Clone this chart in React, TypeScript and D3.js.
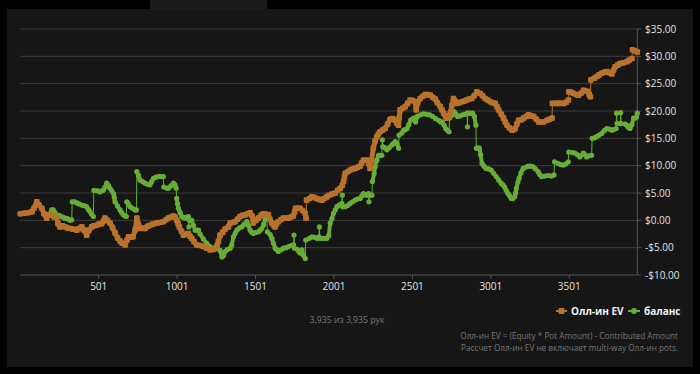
import * as d3 from "d3";

const W = 700;
const H = 374;

const totalHands = 3935;
const yTicks = [-10, -5, 0, 5, 10, 15, 20, 25, 30, 35];
const xTicks = [501, 1001, 1501, 2001, 2501, 3001, 3501];
const seriesNames = ["Олл-ин EV", "баланс"];
const footnotes = [
  "Олл-ин EV = (Equity * Pot Amount) - Contributed Amount",
  "Рассчет Олл-ин EV не включает multi-way Олл-ин pots.",
];

// [hand, $]
const evPoints: [number, number][] = [
  [1,1.2],[25,1.3],[50,1.4],[76,1.6],[88,2.2],[106,3.4],[120,2.8],[138,2.2],[152,1.2],[169,0.4],[184,1.0],[201,1.0],[216,0.6],[233,0.5],[241,-0.6],[254,-1.2],[270,-1.0],[286,-1.2],[302,-1.4],[318,-1.5],[337,-1.6],[361,-1.8],[375,-1.5],[393,-1.2],[407,-1.8],[424,-2.7],[439,-1.8],[456,-1.2],[471,-1.0],[488,-0.9],[503,-0.7],[520,-0.6],[532,-0.1],[541,0.4],[557,0.0],[573,-0.5],[589,-1.3],[605,-2.3],[621,-3.2],[637,-3.8],[650,-4.2],[669,-4.5],[682,-3.6],[691,-3.0],[707,-3.1],[720,-3.0],[733,-1.8],[744,0.4],[755,-0.8],[764,-1.5],[780,-1.4],[796,-1.5],[812,-1.1],[828,-0.9],[847,-0.7],[871,-0.5],[892,-0.4],[913,-0.25],[930,0.1],[945,0.4],[962,0.6],[977,0.8],[988,0.6],[999,0.0],[1007,-0.6],[1015,-1.2],[1029,-2.0],[1041,-2.7],[1058,-2.5],[1073,-2.4],[1083,-2.9],[1094,-3.3],[1109,-3.9],[1126,-4.5],[1147,-4.6],[1168,-4.8],[1189,-5.1],[1211,-5.4],[1227,-5.3],[1243,-5.1],[1256,-4.6],[1264,-3.9],[1275,-2.7],[1291,-2.2],[1307,-1.6],[1328,-1.2],[1339,-0.5],[1355,-0.4],[1370,-0.25],[1386,0.2],[1402,0.7],[1418,0.9],[1434,1.0],[1450,1.2],[1466,1.4],[1479,0.8],[1487,-0.5],[1504,0.0],[1519,0.4],[1536,0.9],[1551,1.2],[1568,1.1],[1583,1.0],[1593,0.2],[1604,-0.5],[1616,-0.9],[1625,-1.2],[1635,-0.6],[1646,-0.25],[1663,0.1],[1678,0.4],[1695,0.4],[1710,0.4],[1727,0.6],[1742,0.8],[1750,1.6],[1756,2.2],[1772,2.2],[1785,2.2],[1801,1.8],[1817,1.3],[1823,0.4],[1826,3.7],[1846,4.0],[1860,4.3],[1874,4.2],[1892,4.0],[1906,3.8],[1924,3.7],[1938,4.0],[1956,4.3],[1970,4.6],[1988,4.8],[2009,5.0],[2025,5.5],[2041,5.85],[2054,6.4],[2062,7.1],[2068,8.0],[2073,8.6],[2089,8.9],[2104,9.2],[2120,9.4],[2136,9.5],[2152,9.7],[2168,9.9],[2178,10.5],[2189,11.0],[2203,11.0],[2214,11.0],[2222,10.4],[2231,9.5],[2241,11.0],[2252,13.2],[2263,14.5],[2274,15.3],[2284,15.8],[2295,16.2],[2311,16.5],[2327,16.8],[2343,17.6],[2359,18.5],[2375,18.6],[2391,18.3],[2401,17.8],[2412,17.4],[2417,18.8],[2423,20.2],[2439,20.5],[2455,20.8],[2471,21.4],[2487,22.0],[2503,21.9],[2519,21.7],[2525,20.2],[2535,21.5],[2551,22.3],[2567,22.7],[2583,23.0],[2599,23.0],[2615,22.9],[2631,22.5],[2647,22.2],[2660,21.5],[2679,20.8],[2690,20.2],[2700,19.6],[2711,19.1],[2721,18.7],[2732,19.0],[2742,19.6],[2752,21.0],[2763,22.3],[2774,21.8],[2785,21.4],[2800,21.5],[2817,21.7],[2831,21.8],[2848,22.0],[2863,22.2],[2880,22.3],[2895,22.8],[2912,23.5],[2933,23.2],[2949,22.8],[2965,22.3],[2981,22.0],[2997,21.7],[3013,21.5],[3029,21.4],[3040,20.8],[3051,20.2],[3068,19.4],[3082,18.7],[3093,18.0],[3104,17.4],[3119,16.9],[3136,16.5],[3148,16.6],[3157,16.8],[3167,17.6],[3178,18.3],[3196,18.4],[3210,18.7],[3227,19.0],[3242,19.3],[3259,19.1],[3274,19.0],[3291,18.5],[3306,18.0],[3323,18.0],[3338,18.0],[3360,18.3],[3374,18.5],[3391,18.7],[3394,21.4],[3419,21.4],[3434,21.4],[3451,21.4],[3466,21.4],[3482,21.6],[3496,22.0],[3499,23.5],[3514,23.4],[3529,23.2],[3546,23.0],[3561,22.9],[3578,23.3],[3593,23.8],[3615,23.6],[3629,23.0],[3636,22.6],[3639,25.7],[3661,26.0],[3678,26.3],[3692,26.6],[3709,26.9],[3724,27.1],[3741,27.2],[3755,27.0],[3773,26.8],[3784,27.5],[3794,28.1],[3810,28.4],[3826,28.7],[3845,28.8],[3869,29.0],[3883,29.3],[3901,29.6],[3904,31.2],[3922,31.0],[3935,30.8],
];

const balancePoints: [number, number][] = [
  [1,1.2],[25,1.3],[50,1.4],[76,1.6],[88,2.2],[106,3.2],[120,2.8],[138,2.2],[152,1.3],[169,0.6],[184,1.0],[201,1.9],[211,1.9],[222,1.4],[233,1.0],[248,0.9],[265,0.7],[277,0.5],[286,0.4],[302,0.3],[318,0.0],[329,0.1],[332,3.4],[347,3.4],[361,3.2],[375,3.0],[393,2.8],[407,2.7],[424,2.5],[435,2.0],[445,1.6],[456,1.1],[467,0.7],[470,5.5],[493,5.4],[509,5.2],[520,5.4],[530,5.5],[541,6.1],[552,6.8],[563,6.4],[573,5.85],[584,5.4],[595,4.9],[600,4.2],[605,3.4],[621,2.6],[637,1.9],[648,1.4],[658,1.0],[669,0.8],[677,0.7],[680,3.4],[690,3.0],[701,2.5],[717,2.2],[733,1.9],[741,1.9],[744,8.9],[755,8.2],[764,7.4],[780,7.1],[796,6.8],[812,6.6],[828,6.5],[839,7.1],[850,7.7],[866,7.9],[882,8.0],[899,8.0],[913,8.0],[916,6.1],[935,5.9],[945,5.85],[961,6.3],[977,6.8],[988,6.5],[995,5.85],[998,4.0],[1004,3.0],[1009,2.2],[1020,1.4],[1031,0.7],[1041,0.5],[1052,0.4],[1063,0.6],[1073,0.7],[1076,-1.2],[1079,0.0],[1094,0.0],[1105,-0.9],[1116,-1.8],[1127,-1.8],[1137,-1.8],[1147,-2.5],[1168,-3.4],[1190,-4.2],[1211,-4.8],[1232,-5.4],[1252,-5.2],[1275,-5.5],[1286,-6.7],[1296,-6.5],[1307,-5.7],[1320,-5.4],[1339,-5.1],[1349,-4.5],[1360,-3.0],[1371,-2.4],[1382,-1.8],[1397,-1.4],[1413,-1.2],[1428,-0.7],[1446,-0.25],[1457,-1.0],[1466,-1.8],[1477,-2.2],[1487,-2.4],[1504,-2.2],[1519,-2.1],[1530,-1.8],[1541,-1.5],[1552,-0.8],[1562,0.4],[1573,0.4],[1576,-2.1],[1594,-2.6],[1605,-3.3],[1615,-4.2],[1626,-5.1],[1637,-5.4],[1647,-5.7],[1664,-5.4],[1679,-5.1],[1696,-5.0],[1711,-4.8],[1728,-4.6],[1743,-4.5],[1746,-2.7],[1749,-5.1],[1765,-5.3],[1775,-5.6],[1786,-6.0],[1797,-5.4],[1807,-6.4],[1818,-7.0],[1821,-3.6],[1844,-3.3],[1861,-3.0],[1875,-3.1],[1893,-3.3],[1905,-3.0],[1908,-1.2],[1911,-3.3],[1923,-3.3],[1938,-3.3],[1956,-3.3],[1968,-2.8],[1977,-0.5],[1988,0.3],[1998,1.3],[2009,1.9],[2020,2.5],[2034,2.8],[2051,3.1],[2054,4.6],[2057,2.5],[2072,2.5],[2088,2.7],[2104,3.1],[2120,3.4],[2136,3.7],[2152,3.9],[2168,4.0],[2179,4.5],[2189,4.9],[2200,4.7],[2211,4.6],[2221,4.9],[2224,3.4],[2227,4.6],[2243,4.6],[2246,7.1],[2257,8.5],[2263,9.8],[2274,11.0],[2285,11.9],[2296,11.9],[2306,11.9],[2309,14.7],[2312,13.5],[2324,13.3],[2339,12.9],[2353,13.3],[2371,13.8],[2381,14.1],[2392,14.4],[2403,14.0],[2413,13.2],[2416,15.6],[2435,16.0],[2446,16.5],[2457,16.6],[2467,16.8],[2478,17.5],[2489,18.3],[2500,18.5],[2510,18.7],[2521,18.0],[2532,19.0],[2553,19.3],[2572,19.5],[2591,19.4],[2611,19.3],[2630,19.0],[2649,18.6],[2668,18.3],[2681,18.0],[2692,18.0],[2703,17.4],[2713,16.8],[2724,16.5],[2735,16.2],[2738,18.7],[2757,19.3],[2767,19.9],[2778,19.5],[2789,19.0],[2804,19.1],[2821,19.3],[2836,19.4],[2850,19.6],[2852,17.1],[2854,19.6],[2868,19.6],[2885,19.6],[2896,19.0],[2906,17.4],[2909,13.2],[2919,13.2],[2928,13.2],[2936,12.0],[2945,10.4],[2958,9.9],[2971,9.5],[2987,9.4],[3003,9.2],[3019,8.6],[3035,8.0],[3051,7.4],[3067,6.8],[3078,6.5],[3089,6.1],[3099,5.5],[3110,4.9],[3121,4.5],[3131,4.0],[3142,4.0],[3153,4.3],[3159,5.0],[3164,5.85],[3174,7.0],[3181,7.7],[3193,8.7],[3207,9.5],[3222,9.7],[3239,9.9],[3254,9.9],[3271,9.8],[3286,9.4],[3303,8.9],[3313,8.4],[3324,8.0],[3345,8.1],[3367,8.2],[3388,8.1],[3404,8.3],[3407,10.7],[3431,10.4],[3445,10.2],[3463,10.1],[3478,10.3],[3495,10.7],[3498,12.5],[3522,12.4],[3537,12.3],[3554,12.0],[3569,11.6],[3591,12.3],[3601,12.0],[3612,11.6],[3628,11.8],[3644,11.9],[3647,15.0],[3663,15.1],[3676,15.3],[3692,15.6],[3708,15.9],[3724,16.4],[3740,16.8],[3756,16.7],[3772,16.5],[3785,16.6],[3800,16.8],[3803,19.6],[3806,17.7],[3826,17.7],[3829,19.7],[3832,17.7],[3858,17.6],[3868,17.4],[3879,17.0],[3889,16.8],[3900,17.5],[3911,18.7],[3922,18.7],[3930,18.9],[3935,19.6],
];

const ORANGE = "#b9722c";
const GREEN = "#67ad36";
const FONT = "'Open Sans', 'Noto Sans', sans-serif";

const x = d3.scaleLinear().domain([1, totalHands]).range([20.3, 637.3]);
const y = d3.scaleLinear().domain([-10, 35]).range([275, 29]);
const money = (v: number) => (v < 0 ? "-$" : "$") + d3.format(".2f")(Math.abs(v));

function Series({ pts, color, thick, square }: { pts: [number, number][]; color: string; thick: number; square: boolean }) {
  const line = d3.line<[number, number]>().x((d) => x(d[0])).y((d) => y(d[1]));
  // runs between hands drawn thick, instant jumps stay thin
  const runs: string[] = [];
  for (let i = 1; i < pts.length; i++) {
    if (pts[i][0] - pts[i - 1][0] > 4) runs.push(line([pts[i - 1], pts[i]]) as string);
  }
  return (
    <g>
      <path d={line(pts) as string} fill="none" stroke={color} strokeWidth={1} />
      <path d={runs.join("")} fill="none" stroke={color} strokeWidth={thick} strokeLinecap="round" strokeLinejoin="round" />
      {pts.map((d, i) =>
        square ? (
          <rect key={i} x={x(d[0]) - 2.8} y={y(d[1]) - 2.8} width={5.6} height={5.6} rx={1} fill={color} />
        ) : (
          <circle key={i} cx={x(d[0])} cy={y(d[1])} r={2.6} fill={color} />
        )
      )}
    </g>
  );
}

export default function App() {
  const [x0, x1] = x.range();
  return (
    <div style={{ position: "fixed", left: 0, top: 0 }}>
      <svg width={W} height={H} style={{ display: "block", fontFamily: FONT }}>
        <rect width={W} height={H} fill="#000" />
        <rect x={150} y={0} width={117} height={10} fill="#1b1b1b" />
        <rect x={7} y={9} width={686} height={358} fill="#161616" />

        {yTicks.map((t) => (
          <g key={t}>
            <line x1={x0} x2={x1} y1={y(t)} y2={y(t)} stroke={t === -10 ? "#555" : "#3d3d3d"} strokeWidth={1} />
            <line x1={x1} x2={x1 + 4} y1={y(t)} y2={y(t)} stroke="#555" />
            <text x={645} y={y(t)} dy="0.35em" fontSize={10} fill="#e2e2e2">{money(t)}</text>
          </g>
        ))}
        <line x1={x1} x2={x1} y1={y(35)} y2={y(-10)} stroke="#555" />

        {xTicks.map((t) => (
          <g key={t}>
            <line x1={x(t)} x2={x(t)} y1={y(-10)} y2={y(-10) + 4} stroke="#555" />
            <text x={x(t)} y={290} textAnchor="middle" fontSize={10} fill="#e2e2e2">{t}</text>
          </g>
        ))}

        <Series pts={balancePoints} color={GREEN} thick={4} square={false} />
        <Series pts={evPoints} color={ORANGE} thick={5} square={true} />

        <g fontWeight="bold" fontSize={10} fill="#f2f2f2">
          <line x1={556} x2={567} y1={311} y2={311} stroke={ORANGE} strokeWidth={2} />
          <rect x={558.5} y={308} width={6} height={6} rx={1} fill={ORANGE} />
          <text x={571} y={311} dy="0.35em">{seriesNames[0]}</text>
          <line x1={628} x2={640} y1={311} y2={311} stroke={GREEN} strokeWidth={2} />
          <circle cx={634} cy={311} r={3} fill={GREEN} />
          <text x={644} y={311} dy="0.35em">{seriesNames[1]}</text>
        </g>

        <text x={347} y={320} dy="0.35em" textAnchor="middle" fontSize={8.7} fill="#777">
          {`${d3.format(",")(totalHands)} из ${d3.format(",")(totalHands)} рук`}
        </text>

        {footnotes.map((f, i) => (
          <text key={i} x={678} y={336.5 + i * 11.5} dy="0.35em" textAnchor="end" fontSize={8.2} fill="#777">{f}</text>
        ))}
      </svg>
    </div>
  );
}
